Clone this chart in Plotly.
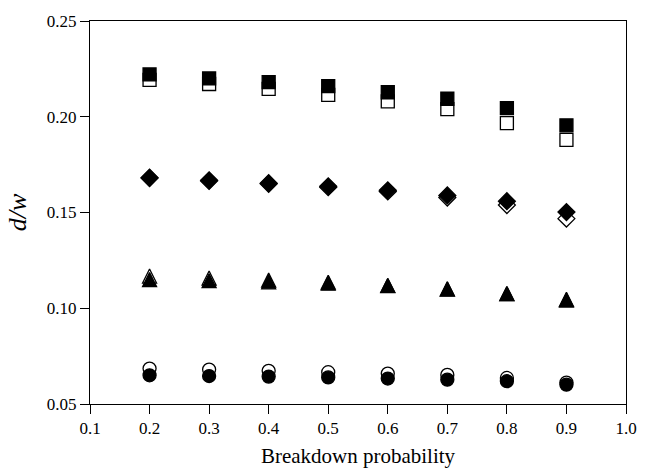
import plotly.graph_objects as go

# Breakdown probability (x) and d/w for four geometries, each measured
# two ways (filled and open markers).
prob = [0.2, 0.3, 0.4, 0.5, 0.6, 0.7, 0.8, 0.9]

square_filled = [0.2221, 0.2200, 0.2181, 0.2160, 0.2128, 0.2094, 0.2045, 0.1955]
square_open = [0.2193, 0.2171, 0.2146, 0.2114, 0.2080, 0.2040, 0.1967, 0.1879]

diamond_filled = [0.1682, 0.1668, 0.1653, 0.1637, 0.1616, 0.1589, 0.1559, 0.1502]
diamond_open = [0.1680, 0.1665, 0.1650, 0.1632, 0.1610, 0.1578, 0.1539, 0.1468]

triangle_filled = [0.1150, 0.1144, 0.1138, 0.1131, 0.1119, 0.1101, 0.1077, 0.1047]
triangle_open = [0.1168, 0.1158, 0.1147, 0.1136, 0.1118, 0.1100, 0.1076, 0.1042]

circle_filled = [0.0650, 0.0646, 0.0643, 0.0639, 0.0633, 0.0627, 0.0619, 0.0601]
circle_open = [0.0685, 0.0680, 0.0673, 0.0666, 0.0659, 0.0652, 0.0636, 0.0612]

x_ticks = [0.1, 0.2, 0.3, 0.4, 0.5, 0.6, 0.7, 0.8, 0.9, 1.0]
y_ticks = [0.05, 0.10, 0.15, 0.20, 0.25]

FONT = "Liberation Serif, Times New Roman, serif"
SIZE = 13
TRI = 14


def marker(symbol, filled, size=SIZE, **extra):
    return dict(
        symbol=symbol,
        size=size,
        color="black" if filled else "white",
        line=dict(color="black", width=1.3),
        **extra,
    )


# An upward triangle whose height equals its width: the arrow symbol is
# flipped and pushed back by half its length so it sits centred on the point.
tri_extra = dict(angle=180, standoff=TRI / 2)

series = [
    (square_open, marker("square", False)),
    (square_filled, marker("square", True)),
    (diamond_open, marker("diamond", False)),
    (diamond_filled, marker("diamond", True)),
    (triangle_open, marker("arrow-down", False, TRI, **tri_extra)),
    (triangle_filled, marker("arrow-down", True, TRI, **tri_extra)),
    (circle_open, marker("circle", False)),
    (circle_filled, marker("circle", True)),
]

fig = go.Figure()
for ys, mk in series:
    fig.add_trace(go.Scatter(x=prob, y=ys, mode="markers", marker=mk,
                             showlegend=False, hoverinfo="skip"))

axis_common = dict(
    showline=True, linecolor="black", linewidth=1, mirror=True,
    ticks="outside", ticklen=9, tickwidth=1, tickcolor="black",
    showgrid=False, zeroline=False,
    tickfont=dict(family=FONT, size=17, color="black"),
)

fig.update_layout(
    width=649, height=475,
    margin=dict(l=90, r=12, t=14, b=67),
    paper_bgcolor="white", plot_bgcolor="white",
    font=dict(family=FONT, color="black"),
    xaxis=dict(
        range=[0.1, 1.0], tickvals=x_ticks, tickformat=".1f",
        title=dict(text="Breakdown probability",
                   font=dict(family=FONT, size=21), standoff=10),
        **axis_common,
    ),
    yaxis=dict(
        range=[0.05, 0.25], tickvals=y_ticks, tickformat=".2f",
        title=dict(text="<i>d/w</i>", font=dict(family=FONT, size=26),
                   standoff=12),
        **axis_common,
    ),
)

fig.write_html("out.html")
